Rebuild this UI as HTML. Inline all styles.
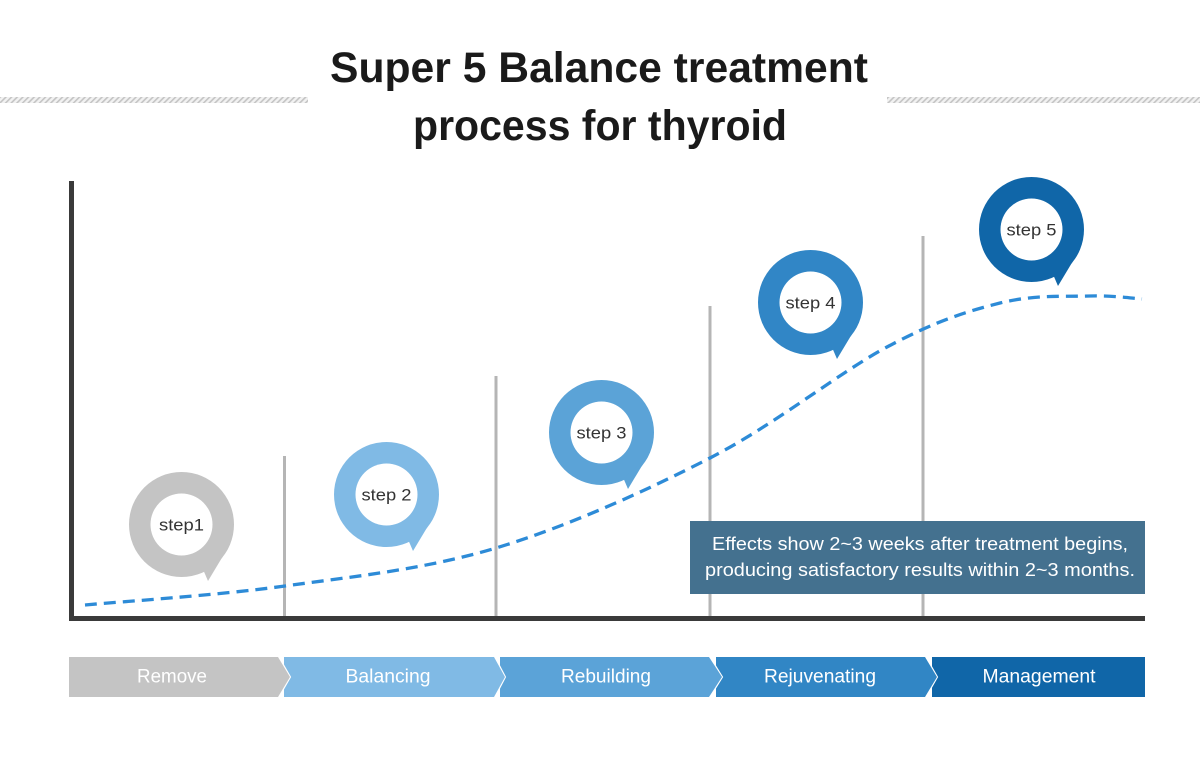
<!DOCTYPE html>
<html>
<head>
<meta charset="utf-8">
<style>
  html,body{margin:0;padding:0;background:#fff;}
  svg{display:block;}
  text{font-family:"Liberation Sans", sans-serif;}
</style>
</head>
<body>
<svg width="1200" height="775" viewBox="0 0 1200 775" xmlns="http://www.w3.org/2000/svg">
  <defs>
    <pattern id="hatch" patternUnits="userSpaceOnUse" width="4" height="4" patternTransform="rotate(45)">
      <rect width="4" height="4" fill="#f2f2f2"/>
      <rect width="1.6" height="4" fill="#c4c4c4"/>
    </pattern>
  </defs>
  <rect width="1200" height="775" fill="#fff"/>

  <!-- hatched bars -->
  <rect x="0" y="97" width="308" height="6" fill="url(#hatch)"/>
  <rect x="887" y="97" width="313" height="6" fill="url(#hatch)"/>

  <!-- title -->
  <text x="599" y="82" text-anchor="middle" font-size="43" font-weight="bold" fill="#1a1a1a" textLength="538" lengthAdjust="spacingAndGlyphs">Super 5 Balance treatment</text>
  <text x="600" y="140" text-anchor="middle" font-size="43" font-weight="bold" fill="#1a1a1a" textLength="374" lengthAdjust="spacingAndGlyphs">process for thyroid</text>

  <!-- vertical gray lines -->
  <rect x="283" y="456" width="3" height="162" fill="#b5b5b5"/>
  <rect x="494.5" y="376" width="3" height="242" fill="#b5b5b5"/>
  <rect x="708.5" y="306" width="3" height="312" fill="#b5b5b5"/>
  <rect x="921.5" y="236" width="3" height="382" fill="#b5b5b5"/>

  <!-- axes -->
  <rect x="69" y="181" width="5" height="440" fill="#3a3a3a"/>
  <rect x="69" y="616" width="1076" height="5" fill="#3a3a3a"/>

  <!-- callout -->
  <rect x="690" y="521" width="455" height="73" fill="#44718f"/>
  <text x="920" y="550" text-anchor="middle" font-size="18" fill="#fff" textLength="416" lengthAdjust="spacingAndGlyphs">Effects show 2~3 weeks after treatment begins,</text>
  <text x="920" y="576" text-anchor="middle" font-size="18" fill="#fff" textLength="430" lengthAdjust="spacingAndGlyphs">producing satisfactory results within 2~3 months.</text>

  <!-- dashed curve -->
  <path d="M85,605 C118.3,601.8 216.5,595.5 285,586 C353.5,576.5 425.2,569.3 496,548 C566.8,526.7 644.8,491.5 710,458 C775.2,424.5 838.7,372.8 887,347 C935.3,321.2 966.2,311.5 1000,303 C1033.8,294.5 1066.3,296.7 1090,296 C1113.7,295.3 1133.3,298.5 1142,299"
        fill="none" stroke="#2d8bd7" stroke-width="3.3" stroke-dasharray="12 7"/>

  <!-- pins -->
  <g>
    <circle cx="181.5" cy="524.5" r="52.5" fill="#c4c4c4"/>
    <polygon points="203.5,570.5 208,581 227.5,548.5" fill="#c4c4c4"/>
    <circle cx="181.5" cy="524.5" r="31" fill="#fff"/>
    <text x="181.5" y="530.5" text-anchor="middle" font-size="17" fill="#333" textLength="45" lengthAdjust="spacingAndGlyphs">step1</text>
  </g>
  <g>
    <circle cx="386.5" cy="494.5" r="52.5" fill="#80bae5"/>
    <polygon points="408.5,540.5 413,551 432.5,518.5" fill="#80bae5"/>
    <circle cx="386.5" cy="494.5" r="31" fill="#fff"/>
    <text x="386.5" y="500.5" text-anchor="middle" font-size="17" fill="#333" textLength="50" lengthAdjust="spacingAndGlyphs">step 2</text>
  </g>
  <g>
    <circle cx="601.5" cy="432.5" r="52.5" fill="#5ba3d7"/>
    <polygon points="623.5,478.5 628,489 647.5,456.5" fill="#5ba3d7"/>
    <circle cx="601.5" cy="432.5" r="31" fill="#fff"/>
    <text x="601.5" y="438.5" text-anchor="middle" font-size="17" fill="#333" textLength="50" lengthAdjust="spacingAndGlyphs">step 3</text>
  </g>
  <g>
    <circle cx="810.5" cy="302.5" r="52.5" fill="#3186c6"/>
    <polygon points="832.5,348.5 837,359 856.5,326.5" fill="#3186c6"/>
    <circle cx="810.5" cy="302.5" r="31" fill="#fff"/>
    <text x="810.5" y="308.5" text-anchor="middle" font-size="17" fill="#333" textLength="50" lengthAdjust="spacingAndGlyphs">step 4</text>
  </g>
  <g>
    <circle cx="1031.5" cy="229.5" r="52.5" fill="#1066a8"/>
    <polygon points="1053.5,275.5 1058,286 1077.5,253.5" fill="#1066a8"/>
    <circle cx="1031.5" cy="229.5" r="31" fill="#fff"/>
    <text x="1031.5" y="235.5" text-anchor="middle" font-size="17" fill="#333" textLength="50" lengthAdjust="spacingAndGlyphs">step 5</text>
  </g>

  <!-- process arrows (drawn right to left so points overlap next) -->
  <rect x="932" y="657" width="213" height="40" fill="#1066a8"/>

  <polyline points="925,656 937,677 925,698" fill="none" stroke="#fff" stroke-width="2"/>
  <polygon points="716,657 925,657 937,677 925,697 716,697" fill="#3186c5"/>

  <polyline points="709,656 722,677 709,698" fill="none" stroke="#fff" stroke-width="2"/>
  <polygon points="500,657 709,657 722,677 709,697 500,697" fill="#5ba3d8"/>

  <polyline points="494,656 505,677 494,698" fill="none" stroke="#fff" stroke-width="2"/>
  <polygon points="284,657 494,657 505,677 494,697 284,697" fill="#80bae5"/>

  <polyline points="278,656 290,677 278,698" fill="none" stroke="#fff" stroke-width="2"/>
  <polygon points="69,657 278,657 290,677 278,697 69,697" fill="#c4c4c4"/>

  <text x="172" y="682.5" text-anchor="middle" font-size="19" fill="#fff" textLength="70" lengthAdjust="spacingAndGlyphs">Remove</text>
  <text x="388" y="682.5" text-anchor="middle" font-size="19" fill="#fff" textLength="85" lengthAdjust="spacingAndGlyphs">Balancing</text>
  <text x="606" y="682.5" text-anchor="middle" font-size="19" fill="#fff" textLength="90" lengthAdjust="spacingAndGlyphs">Rebuilding</text>
  <text x="820" y="682.5" text-anchor="middle" font-size="19" fill="#fff" textLength="112" lengthAdjust="spacingAndGlyphs">Rejuvenating</text>
  <text x="1039" y="682.5" text-anchor="middle" font-size="19" fill="#fff" textLength="113" lengthAdjust="spacingAndGlyphs">Management</text>
</svg>
</body>
</html>
